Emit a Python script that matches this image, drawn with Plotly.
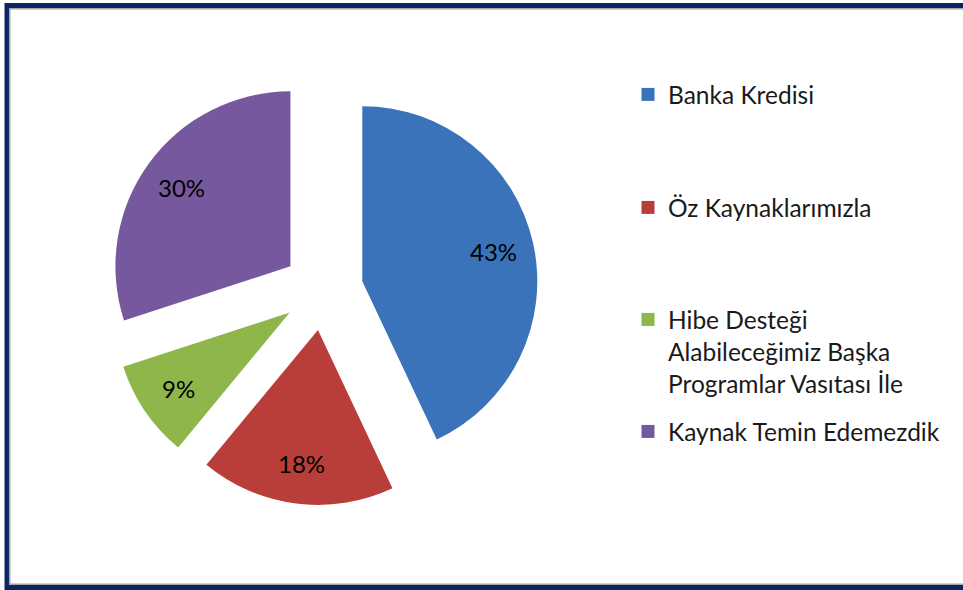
import math
import plotly.graph_objects as go

categories = ["Banka Kredisi", "Öz Kaynaklarımızla",
              "Hibe Desteği<br>Alabileceğimiz Başka<br>Programlar Vasıtası İle",
              "Kaynak Temin Edemezdik"]
values = [43, 18, 9, 30]
colors = ["#3B73BB", "#B93D39", "#8FB64A", "#76589E"]

W, H = 963, 590
FONT = "Lato, 'Open Sans', sans-serif"

# pie geometry (layout, in pixels)
CX, CY, R, PULL = 323, 290, 175, 0.23
LABEL_R = 0.77          # label distance from the exploded slice tip, in radii
half = R * (1 + PULL)

fig = go.Figure()
fig.add_trace(go.Pie(
    labels=categories, values=values, sort=False, direction="clockwise", rotation=0,
    marker=dict(colors=colors, line=dict(width=0)),
    pull=[PULL] * len(values),
    textinfo="none",
    showlegend=False, hoverinfo="label+percent",
    domain=dict(x=[(CX - half) / W, (CX + half) / W],
                y=[1 - (CY + half) / H, 1 - (CY - half) / H]),
))

# percentage labels placed along each slice's mid angle
annotations = []
total = sum(values)
cum = 0
for v in values:
    mid = 2 * math.pi * (cum + v / 2) / total   # clockwise from 12 o'clock
    cum += v
    d = R * (PULL + LABEL_R)
    px = CX + d * math.sin(mid)
    py = CY - d * math.cos(mid)
    annotations.append(dict(
        x=px / W, y=1 - py / H, xref="paper", yref="paper",
        xanchor="center", yanchor="middle",
        text=f"{v}%", showarrow=False,
        font=dict(family=FONT, size=24, color="#000000"),
    ))

# legend entries (one legend box per entry to mimic the spacing of the original)
legend_y = [96, 209, 321, 433]
layout_legends = {}
for i, (name, col) in enumerate(zip(categories, colors)):
    key = "legend" if i == 0 else f"legend{i + 1}"
    fig.add_trace(go.Scatter(
        x=[None], y=[None], mode="markers", name=name,
        marker=dict(symbol="square", size=13, color=col),
        showlegend=True, legend=key, hoverinfo="skip",
    ))
    layout_legends[key] = dict(
        x=628 / W, xanchor="left",
        y=1 - (legend_y[i] - 24) / H, yanchor="top",
        valign="top", bgcolor="rgba(0,0,0,0)",
        font=dict(family=FONT, size=24.5, color="#1a1a1a"),
        itemclick=False, itemdoubleclick=False,
    )

fig.update_layout(
    width=W, height=H,
    margin=dict(l=0, r=0, t=0, b=0),
    paper_bgcolor="white", plot_bgcolor="white",
    xaxis=dict(visible=False), yaxis=dict(visible=False),
    annotations=annotations,
    shapes=[
        dict(type="rect", xref="paper", yref="paper",
             x0=7 / W, x1=1.02, y0=1 - 587.5 / H, y1=1 - 5.5 / H,
             line=dict(color="#0B2462", width=5), layer="above"),
        dict(type="rect", xref="paper", yref="paper",
             x0=9.7 / W, x1=1.02, y0=1 - 584.3 / H, y1=1 - 8.7 / H,
             line=dict(color="#A6A6A6", width=1.5), layer="above"),
    ],
    **layout_legends,
)

fig.write_html("out.html",
               config=dict(displayModeBar=False),
               post_script="document.body.style.margin='0';document.body.style.overflow='hidden';")
